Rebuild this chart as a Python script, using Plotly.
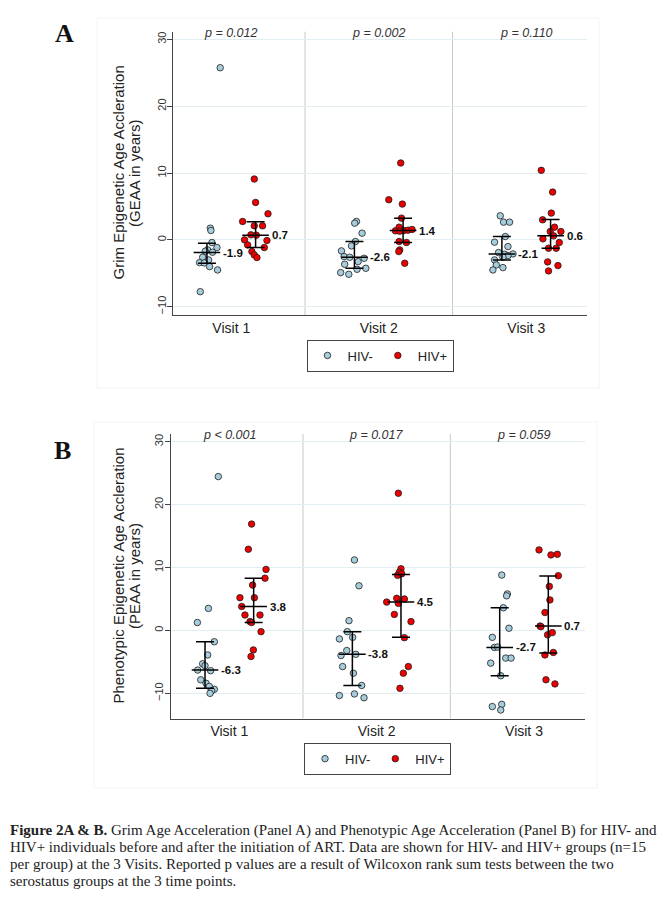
import plotly.graph_objects as go

# page body has an 8px default margin: figure is sized to fill the rest of the window
OX, OY = 8, 8
FW, FH = 660, 893

visits = ["Visit 1", "Visit 2", "Visit 3"]
groups = ["HIV-", "HIV+"]

# ---------------- Panel A : Grim Epigenetic Age Acceleration ----------------
grim_neg_v1 = [25.75, 1.75, 1.4, -0.4, -1.15, -1.5, -1.85, -1.7, -2.6, -3.0, -3.4, -3.45, -4.0, -4.5, -7.75]
grim_neg_v2 = [2.75, 2.5, 1.0, -0.25, -0.9, -1.65, -2.5, -2.6, -2.75, -3.25, -3.65, -4.25, -4.4, -4.9, -5.15]
grim_neg_v3 = [3.6, 2.65, 2.65, 0.5, -0.35, -1.0, -2.1, -2.15, -2.35, -2.6, -3.0, -3.75, -4.15, -4.5, -1.9]
grim_pos_v1 = [9.1, 5.6, 3.9, 2.75, 2.1, 2.1, 0.75, 0.7, 0.0, -0.1, -0.75, -1.15, -1.75, -2.25, -2.65]
grim_pos_v2 = [11.5, 6.0, 5.35, 3.25, 1.9, 1.35, 1.4, 1.45, 1.55, 1.3, -0.25, -0.4, -1.5, -1.75, -3.5]
grim_pos_v3 = [10.4, 7.15, 4.0, 3.0, 1.9, 1.25, 1.25, 0.15, 0.6, -0.4, -1.25, -1.25, -3.3, -3.85, -4.65]

grim_neg_jit_v1 = [0.09, 0.023, 0.027, 0.034, 0.068, 0.005, 0.038, -0.011, -0.029, 0.011, -0.05, -0.018, 0.018, 0.072, -0.045]
grim_neg_jit_v2 = [0.014, 0.002, 0.052, 0.007, -0.02, -0.088, -0.07, -0.032, 0.066, 0.025, -0.066, 0.077, 0.018, -0.093, -0.038]
grim_neg_jit_v3 = [-0.011, 0.011, 0.052, 0.023, -0.05, 0.041, 0.075, 0.018, 0.041, 0.007, -0.05, -0.038, 0.007, -0.061, -0.023]
grim_pos_jit_v1 = [-0.009, 0.0, 0.084, -0.088, -0.009, 0.047, -0.032, 0.005, -0.075, 0.077, -0.054, 0.059, -0.025, -0.009, 0.009]
grim_pos_jit_v2 = [-0.016, -0.097, -0.005, -0.011, -0.027, -0.052, 0.007, 0.034, 0.061, -0.023, -0.027, 0.023, -0.023, -0.029, 0.011]
grim_pos_jit_v3 = [-0.063, 0.014, 0.005, -0.054, 0.027, -0.002, 0.07, -0.052, 0.02, 0.059, -0.014, 0.038, -0.02, 0.05, -0.014]

grim_neg_median = [-1.9, -2.6, -2.1]
grim_neg_q1 = [-3.5, -4.25, -3.0]
grim_neg_q3 = [-0.5, -0.25, 0.5]
grim_pos_median = [0.7, 1.4, 0.6]
grim_pos_q1 = [-1.15, -0.4, -1.25]
grim_pos_q3 = [2.7, 3.25, 3.05]
grim_pvalues = ["p = 0.012", "p = 0.002", "p = 0.110"]

# ---------------- Panel B : Phenotypic Epigenetic Age Acceleration ----------------
pheno_neg_v1 = [24.45, 3.5, 1.25, -1.8, -3.9, -5.3, -5.6, -6.3, -6.4, -7.85, -8.4, -8.9, -9.35, -9.6, -10.0]
pheno_neg_v2 = [11.2, 7.1, 1.55, -0.2, -1.1, -1.35, -3.2, -4.0, -3.8, -5.75, -6.8, -8.75, -10.35, -10.1, -10.7]
pheno_neg_v3 = [8.8, 5.8, 5.5, 3.6, 0.35, -1.1, -2.7, -2.65, -4.4, -4.4, -5.2, -7.2, -11.75, -12.1, -12.65]
pheno_pos_v1 = [16.9, 12.9, 9.7, 8.3, 7.2, 5.2, 5.2, 3.8, 2.45, 2.45, 1.4, 1.25, -0.2, -3.1, -4.15]
pheno_pos_v2 = [21.8, 9.8, 9.25, 8.75, 5.1, 5.0, 4.5, 4.3, 2.55, 1.4, -1.15, -5.75, -6.8, -9.2, 9.0]
pheno_pos_v3 = [12.8, 12.0, 12.1, 8.7, 7.0, 4.85, 2.85, 0.7, 0.6, -0.7, -0.35, -3.5, -3.9, -7.85, -8.5]

pheno_neg_jit_v1 = [0.09, 0.023, -0.052, 0.063, 0.018, -0.016, 0.0, -0.05, 0.038, -0.029, 0.007, 0.029, 0.063, 0.045, 0.034]
pheno_neg_jit_v2 = [0.014, 0.045, -0.023, -0.034, 0.002, -0.088, -0.038, -0.077, 0.023, -0.066, 0.007, 0.063, -0.088, 0.014, 0.079]
pheno_neg_jit_v3 = [0.014, 0.052, 0.047, 0.025, 0.063, -0.05, -0.036, -0.014, 0.041, 0.077, -0.061, 0.007, 0.014, -0.05, 0.007]
pheno_pos_jit_v1 = [-0.014, -0.036, 0.084, 0.077, -0.007, -0.093, 0.005, -0.081, -0.059, 0.043, -0.025, -0.014, 0.05, -0.002, -0.018]
pheno_pos_jit_v2 = [-0.018, 0.0, -0.011, -0.023, -0.029, 0.023, -0.097, -0.018, -0.045, 0.068, 0.023, 0.05, 0.016, -0.007, 0.005]
pheno_pos_jit_v3 = [-0.063, 0.018, 0.061, 0.068, 0.007, 0.011, -0.023, -0.056, -0.05, -0.005, 0.027, 0.034, -0.023, -0.016, 0.045]

pheno_neg_median = [-6.3, -3.8, -2.7]
pheno_neg_q1 = [-9.2, -8.75, -7.2]
pheno_neg_q3 = [-1.8, -0.2, 3.6]
pheno_pos_median = [3.8, 4.5, 0.7]
pheno_pos_q1 = [1.25, -1.1, -3.6]
pheno_pos_q3 = [8.3, 8.9, 8.65]
pheno_pvalues = ["p &lt; 0.001", "p = 0.017", "p = 0.059"]

y_ticks = [-10, 0, 10, 20, 30]

# ---------------- styling ----------------
SANS = "Liberation Sans, Arial, sans-serif"
SERIF = "Liberation Serif, Times New Roman, serif"
NEG_FILL = "#a6cddc"
POS_FILL = "#ee0000"
EDGE = "#1e1e1e"
GROUP_OFFSET = 0.165


def px(x):
    """window x pixel -> paper fraction"""
    return (x - OX) / FW


def py(y):
    """window y pixel -> paper fraction"""
    return 1 - (y - OY) / FH


fig = go.Figure()

panels = [
    dict(xa="x", ya="y", legend="legend",
         neg=[grim_neg_v1, grim_neg_v2, grim_neg_v3],
         pos=[grim_pos_v1, grim_pos_v2, grim_pos_v3],
         negj=[grim_neg_jit_v1, grim_neg_jit_v2, grim_neg_jit_v3],
         posj=[grim_pos_jit_v1, grim_pos_jit_v2, grim_pos_jit_v3],
         stats=[(grim_neg_median, grim_neg_q1, grim_neg_q3),
                (grim_pos_median, grim_pos_q1, grim_pos_q3)],
         pvals=grim_pvalues),
    dict(xa="x2", ya="y2", legend="legend2",
         neg=[pheno_neg_v1, pheno_neg_v2, pheno_neg_v3],
         pos=[pheno_pos_v1, pheno_pos_v2, pheno_pos_v3],
         negj=[pheno_neg_jit_v1, pheno_neg_jit_v2, pheno_neg_jit_v3],
         posj=[pheno_pos_jit_v1, pheno_pos_jit_v2, pheno_pos_jit_v3],
         stats=[(pheno_neg_median, pheno_neg_q1, pheno_neg_q3),
                (pheno_pos_median, pheno_pos_q1, pheno_pos_q3)],
         pvals=pheno_pvalues),
]

annotations = []
shapes = []

for p in panels:
    for gi, (name, fill, vals, jits) in enumerate([
        (groups[0], NEG_FILL, p["neg"], p["negj"]),
        (groups[1], POS_FILL, p["pos"], p["posj"]),
    ]):
        off = -GROUP_OFFSET if gi == 0 else GROUP_OFFSET
        xs, ys = [], []
        for vi in range(3):
            for v, j in zip(vals[vi], jits[vi]):
                xs.append(vi + 1 + off + j)
                ys.append(v)
        fig.add_trace(go.Scatter(
            x=xs, y=ys, mode="markers", name=name, legend=p["legend"],
            xaxis=p["xa"], yaxis=p["ya"],
            marker=dict(size=6.5, color=fill, line=dict(color=EDGE, width=0.8)),
            hoverinfo="skip",
        ))
    # median + IQR bars
    for gi, (med, q1, q3) in enumerate(p["stats"]):
        off = -GROUP_OFFSET if gi == 0 else GROUP_OFFSET
        bx = [vi + 1 + off for vi in range(3)]
        fig.add_trace(go.Scatter(
            x=bx, y=med, mode="markers", showlegend=False,
            xaxis=p["xa"], yaxis=p["ya"],
            marker=dict(symbol="line-ew", size=19, color="black",
                        line=dict(color="black", width=1.5)),
            error_y=dict(type="data", symmetric=False,
                         array=[b - m for b, m in zip(q3, med)],
                         arrayminus=[m - a for m, a in zip(med, q1)],
                         width=9, thickness=1.5, color="black"),
            hoverinfo="skip",
        ))
        for x_, m in zip(bx, med):
            annotations.append(dict(
                x=x_, y=m, xref=p["xa"], yref=p["ya"], xanchor="left", yanchor="middle",
                xshift=14, text=f"<b>{m:.1f}</b>", showarrow=False,
                font=dict(family=SANS, size=11.5, color="#111")))
    # p-values
    for vi, t in enumerate(p["pvals"]):
        annotations.append(dict(
            x=vi + 1, y=1, xref=p["xa"], yref=f"{p['ya']} domain",
            xanchor="center", yanchor="middle", yshift=-1,
            text=f"<i>{t}</i>", showarrow=False,
            font=dict(family=SANS, size=12.5, color="#333")))
    # dividers between visits
    for xd in (1.5, 2.5):
        shapes.append(dict(type="line", xref=p["xa"], yref=f"{p['ya']} domain",
                           x0=xd, x1=xd, y0=0, y1=1,
                           line=dict(color="#c8c8c8", width=1), layer="below"))

# faint graph-region borders
shapes.append(dict(type="rect", xref="paper", yref="paper",
                   x0=px(97), x1=px(599), y0=py(388), y1=py(18),
                   line=dict(color="#f1f4f6", width=1), layer="below"))
shapes.append(dict(type="rect", xref="paper", yref="paper",
                   x0=px(94), x1=px(597), y0=py(788), y1=py(422),
                   line=dict(color="#f1f4f6", width=1), layer="below"))

# panel letters
annotations.append(dict(x=px(64), y=py(33.5), xref="paper", yref="paper",
                        xanchor="center", yanchor="middle", text="<b>A</b>",
                        showarrow=False, font=dict(family=SERIF, size=26, color="#111")))
annotations.append(dict(x=px(62.5), y=py(450.5), xref="paper", yref="paper",
                        xanchor="center", yanchor="middle", text="<b>B</b>",
                        showarrow=False, font=dict(family=SERIF, size=26, color="#111")))

# y-axis titles (two lines each)
for (t1, t2, yc) in [("Grim Epigenetic Age Accleration", "(GEAA in years)", 173),
                     ("Phenotypic Epigenetic Age Accleration", "(PEAA in years)", 576)]:
    for t, xc in ((t1, 117.5), (t2, 134)):
        annotations.append(dict(x=px(xc), y=py(yc), xref="paper", yref="paper",
                                xanchor="center", yanchor="middle", textangle=-90,
                                text=t, showarrow=False,
                                font=dict(family=SANS, size=15, color="#222")))

# caption
caption_lines = [
    "<b>Figure 2A &amp; B.</b> Grim Age Acceleration (Panel A) and Phenotypic Age Acceleration (Panel B) for HIV- and",
    "HIV+ individuals before and after the initiation of ART. Data are shown for HIV- and HIV+ groups (n=15",
    "per group) at the 3 Visits. Reported p values are a result of Wilcoxon rank sum tests between the two",
    "serostatus groups at the 3 time points.",
]
for i, line in enumerate(caption_lines):
    annotations.append(dict(x=px(8), y=py(830 + 17 * i), xref="paper", yref="paper",
                            xanchor="left", yanchor="middle", text=line, showarrow=False,
                            font=dict(family=SERIF, size=15.0, color="#222")))

xaxis_common = dict(tickvals=[1, 2, 3], ticktext=visits, showline=True, linecolor="#444",
                    linewidth=1, ticks="", showgrid=False, zeroline=False,
                    tickfont=dict(family=SANS, size=14, color="#222"), fixedrange=True)
yaxis_common = dict(tickvals=y_ticks, ticks="outside", ticklen=5, tickcolor="#444",
                    tickangle=-90, showline=True, linecolor="#444", linewidth=1,
                    ticklabelstandoff=-3,
                    showgrid=True, gridcolor="#e2edf1", gridwidth=1, zeroline=False,
                    tickfont=dict(family=SANS, size=11, color="#333"), fixedrange=True)

legend_common = dict(orientation="h", xanchor="center", yanchor="middle",
                     bordercolor="#444", borderwidth=1, bgcolor="white",
                     font=dict(family=SANS, size=13, color="#222"), itemwidth=30,
                     itemclick=False, itemdoubleclick=False)

fig.update_layout(
    width=FW, height=FH, autosize=False,
    margin=dict(l=0, r=0, t=0, b=0),
    paper_bgcolor="white", plot_bgcolor="white",
    xaxis=dict(domain=[px(173.3), px(587.3)], anchor="y", range=[0.607, 3.414], **xaxis_common),
    yaxis=dict(domain=[py(315), py(31.7)], anchor="x", range=[-11.24, 31.14], **yaxis_common),
    xaxis2=dict(domain=[px(170.7), px(585)], anchor="y2", range=[0.602, 3.414], **xaxis_common),
    yaxis2=dict(domain=[py(718.5), py(434)], anchor="x2", range=[-14.0, 31.22], **yaxis_common),
    legend=dict(x=px(380), y=py(355.5), **legend_common),
    legend2=dict(x=px(377.5), y=py(758.7), **legend_common),
    annotations=annotations,
    shapes=shapes,
    font=dict(family=SANS),
)

fig.write_html("out.html")
